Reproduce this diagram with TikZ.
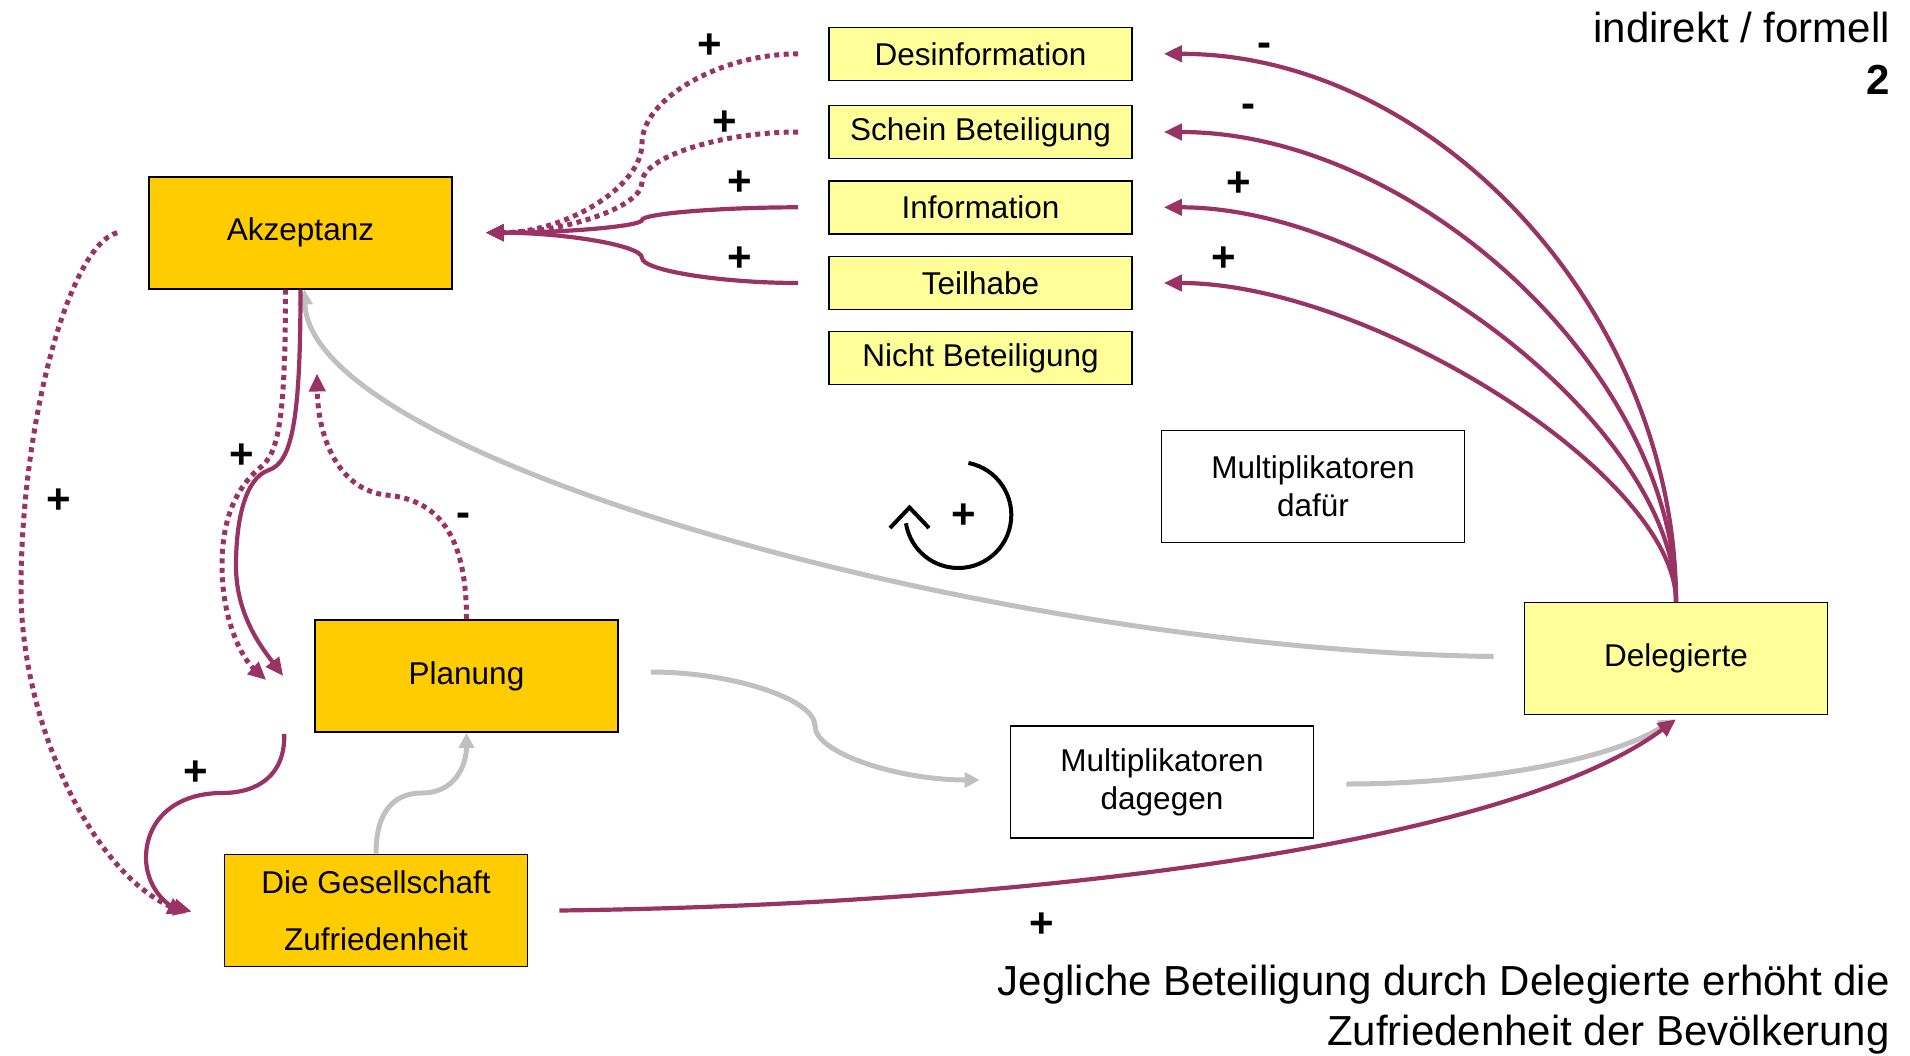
\documentclass[tikz,border=0pt]{standalone}
\usepackage{fontspec}
\setmainfont{Liberation Sans}
\usetikzlibrary{arrows.meta,calc}
\definecolor{akzorange}{HTML}{FFCC00}
\definecolor{lightyel}{HTML}{FFFF99}
\definecolor{plum}{HTML}{993366}
\definecolor{lgray}{HTML}{C0C0C0}
\begin{document}
\begin{tikzpicture}[x=1bp,y=-1bp,
  box/.style={draw=black, line width=1.6bp, minimum width=303bp, minimum height=112bp,
    inner sep=0pt, align=center, font=\fontsize{31.5bp}{38bp}\selectfont},
  obox/.style={box, fill=akzorange},
  ybox/.style={box, fill=lightyel},
  sbox/.style={box, fill=lightyel, minimum height=53bp},
  wbox/.style={box, fill=white},
  pline/.style={draw=plum, line width=4.2bp, -{Triangle[length=18bp,width=16bp]}},
  pdot/.style={pline, line width=5bp, dash pattern=on 5bp off 4.5bp},
  gline/.style={draw=lgray, line width=5bp, -{Triangle[length=15bp,width=15bp]}},
  sign/.style={font=\fontsize{42bp}{42bp}\selectfont\bfseries, inner sep=0pt, anchor=center},
  bigtext/.style={font=\fontsize{42bp}{50bp}\selectfont, inner sep=0pt, anchor=base east},
  loopline/.style={draw=black, line width=4bp}
]
\useasboundingbox (0,0) rectangle (1910,1055);

% ---------- nodes ----------
\node[obox] (akz) at (300.5,232.7) {Akzeptanz};
\node[obox] (plan) at (466.5,676) {Planung};
\node[obox] (ges) at (376,910.5) {Die Gesellschaft\\[19bp]Zufriedenheit};
\node[ybox] (del) at (1676,658.5) {Delegierte};
\node[wbox] (dag) at (1162,782) {Multiplikatoren\\dagegen};
\node[wbox] (daf) at (1313,486.5) {Multiplikatoren\\dafür};
\node[sbox] (desinf) at (980.5,53.8) {Desinformation};
\node[sbox] (schein) at (980.5,132) {Schein Beteiligung};
\node[sbox] (info) at (980.5,207.3) {Information};
\node[sbox] (teil) at (980.5,283) {Teilhabe};
\node[sbox] (nicht) at (980.5,358) {Nicht Beteiligung};

\node[bigtext] (title) at (1890,42.7) {indirekt / formell};
\node[bigtext, font=\fontsize{42bp}{50bp}\selectfont\bfseries] (num) at (1890,94) {2};
\node[bigtext] (note1) at (1890,995) {Jegliche Beteiligung durch Delegierte erhöht die};
\node[bigtext] (note2) at (1890,1045) {Zufriedenheit der Bevölkerung};

% ---------- connector end points ----------
\coordinate (akzR) at ($(akz.east)+(33,0)$);
\coordinate (akzL) at ($(akz.west)+(-31,0)$);
\coordinate (akzD) at ($(akz.south)+(-15,0)$);
\coordinate (akzG) at ($(akz.south)+(4,0)$);
\coordinate (akzIn) at ($(akz.south)+(16.5,84)$);
\coordinate (dS) at ($(desinf.west)+(-30,0)$);
\coordinate (sS) at ($(schein.west)+(-30,0)$);
\coordinate (iS) at ($(info.west)+(-30,0)$);
\coordinate (tS) at ($(teil.west)+(-30,0)$);
\coordinate (dE) at ($(desinf.east)+(31,0)$);
\coordinate (sE) at ($(schein.east)+(31,0)$);
\coordinate (iE) at ($(info.east)+(31,0)$);
\coordinate (tE) at ($(teil.east)+(31,0)$);
\coordinate (delL) at ($(del.west)+(-30,-2)$);
\coordinate (delB) at ($(del.south)+(-2,4)$);
\coordinate (delB2) at ($(del.south)+(0,4)$);
\coordinate (planA) at ($(plan.west)+(-31,0)$);
\coordinate (planB) at ($(plan.west)+(-48,4)$);
\coordinate (planSW) at ($(plan.south west)+(-30,1)$);
\coordinate (planE) at ($(plan.east)+(32,-4)$);
\coordinate (gesD) at ($(ges.west)+(-38,3)$);
\coordinate (gesS) at ($(ges.west)+(-32,1)$);
\coordinate (gesE) at ($(ges.east)+(31,0)$);
\coordinate (dagW) at ($(dag.west)+(-30,-2)$);
\coordinate (dagE) at ($(dag.east)+(32,2)$);

% ---------- gray connectors ----------
\draw[gline] (delL) .. controls (1000,650) and (310,460) .. (akzG);
\draw[gline] (ges.north) .. controls (376,810) and (395,793) .. (422,793)
   .. controls (455,793) and (466.5,765) .. (plan.south);
\draw[gline] (planE) .. controls (732,672) and (815,699) .. (815,726)
   .. controls (815,753) and (898,780) .. (dagW);
\draw[gline] (dagE) .. controls (1480,784) and (1610,760) .. (delB);

% ---------- purple connectors to Akzeptanz ----------
\draw[pdot] (dS) .. controls (720.75,53.8) and (642,98.5) .. (642,143.25)
   .. controls (642,188) and (563.5,232.7) .. (akzR);
\draw[pdot] (sS) .. controls (720.75,132) and (642,157.2) .. (642,182.35)
   .. controls (642,207.5) and (563.5,232.7) .. (akzR);
\draw[pline] (iS) .. controls (720.75,207.3) and (642,213.65) .. (642,220)
   .. controls (642,226.35) and (563.5,232.7) .. (akzR);
\draw[pline] (tS) .. controls (720.75,283) and (642,270.4) .. (642,257.85)
   .. controls (642,245.3) and (563.5,232.7) .. (akzR);

% ---------- fan from Delegierte ----------
\draw[pline] (del.north) .. controls (1676,311.5) and (1435,53.8) .. (dE);
\draw[pline] (del.north) .. controls (1676,371.7) and (1414,132) .. (sE);
\draw[pline] (del.north) .. controls (1676,428.3) and (1388.7,207.3) .. (iE);
\draw[pline] (del.north) .. controls (1676,474.4) and (1368,283) .. (tE);

% ---------- left side loops ----------
\draw[pline] (akz.south) .. controls (300.5,420) and (292,462) .. (269,470)
   .. controls (245,478) and (236,520) .. (236,566)
   .. controls (236,615) and (262,648) .. (planA);
\draw[pdot] (akzD) .. controls (285.5,420) and (278,452) .. (262,466)
   .. controls (235,488) and (222,520) .. (222,566)
   .. controls (222,620) and (242,658) .. (planB);
\draw[pdot] (plan.north) .. controls (466.5,545) and (445,500) .. (386,495)
   .. controls (340,490) and (318,440) .. (akzIn);
\draw[pdot] (akzL) .. controls (70,245) and (21,420) .. (21,590)
   .. controls (21,720) and (90,870) .. (gesD);
\draw[pline] (planSW) .. controls (285.5,775) and (258,793) .. (222,793)
   .. controls (175,793) and (146,820) .. (146,858)
   .. controls (146,885) and (165,905) .. (gesS);
\draw[pline] (gesE) .. controls (1000,905) and (1500,850) .. (delB2);

% ---------- loop symbol ----------
\draw[loopline] (958.3,515) ++(-79:53) arc[start angle=-79, end angle=171, radius=53];
\draw[loopline, miter limit=10] (890,528) -- (909.5,507.5) -- (929,528);

% ---------- signs ----------
\node[sign] (s1) at (710,46.5) {+};
\node[sign] (s2) at (725,123) {+};
\node[sign] (s3) at (740,183) {+};
\node[sign] (s4) at (740,259) {+};
\node[sign] (s5) at (1264,50) {-};
\node[sign] (s6) at (1248.6,111) {-};
\node[sign] (s7) at (1239,184) {+};
\node[sign] (s8) at (1224,259) {+};
\node[sign] (s9) at (59,501) {+};
\node[sign] (s10) at (241.3,456) {+};
\node[sign] (s11) at (463,520) {-};
\node[sign] (s12) at (195.7,773) {+};
\node[sign] (s13) at (1042,925.5) {+};
\node[sign] (s14) at (963.3,516) {+};
\end{tikzpicture}
\end{document}
